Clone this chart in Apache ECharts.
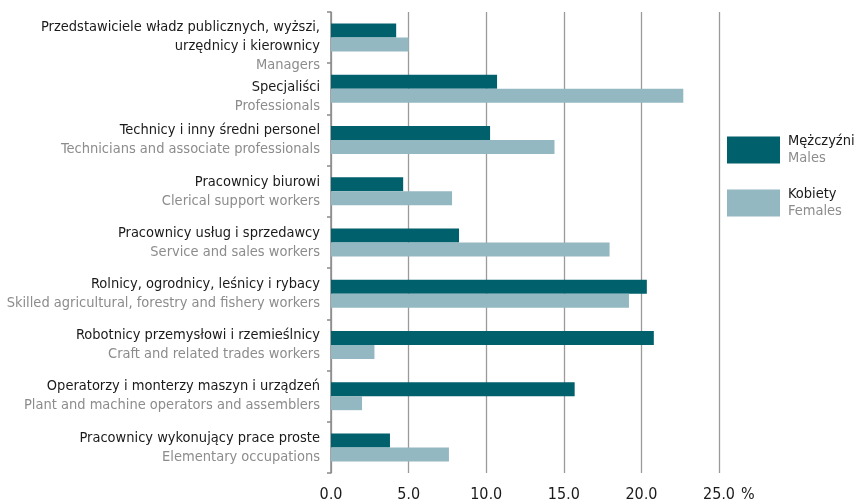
<!DOCTYPE html>
<html>
<head>
<meta charset="utf-8">
<script src="https://cdn.jsdelivr.net/npm/echarts@6/dist/echarts.min.js"></script>
<style>
  html, body { margin: 0; padding: 0; background: #fff; }
  #chart { width: 855px; height: 499px; }
</style>
</head>
<body>
<div id="chart"></div>
<script>
// categories, polish lines (may be split in two) and english line
const categoriesPl = [
  ['Przedstawiciele władz publicznych, wyższi,', 'urzędnicy i kierownicy'],
  ['Specjaliści'],
  ['Technicy i inny średni personel'],
  ['Pracownicy biurowi'],
  ['Pracownicy usług i sprzedawcy'],
  ['Rolnicy, ogrodnicy, leśnicy i rybacy'],
  ['Robotnicy przemysłowi i rzemieślnicy'],
  ['Operatorzy i monterzy maszyn i urządzeń'],
  ['Pracownicy wykonujący prace proste']
];
const categoriesEn = [
  'Managers',
  'Professionals',
  'Technicians and associate professionals',
  'Clerical support workers',
  'Service and sales workers',
  'Skilled agricultural, forestry and fishery workers',
  'Craft and related trades workers',
  'Plant and machine operators and assemblers',
  'Elementary occupations'
];
const males = [4.2, 10.7, 10.25, 4.65, 8.25, 20.35, 20.8, 15.7, 3.8];
const females = [5.0, 22.7, 14.4, 7.8, 17.95, 19.2, 2.8, 2.0, 7.6];
const seriesNames = ['Mężczyźni', 'Kobiety'];
const seriesNamesEn = ['Males', 'Females'];

// the first two label blocks sit lower in the original: an invisible spacer line pushes them down
const labelSpacer = [18, 16, 0, 0, 0, 0, 0, 0, 0];

const FONT = "'DejaVu Sans Condensed', 'DejaVu Sans', sans-serif";
const labels = categoriesPl.map((pl, i) => String(i));

const rich = {
  pl: { fontSize: 14.5, color: '#1a1a1a', lineHeight: 19, fontFamily: FONT, align: 'right' },
  en: { fontSize: 14.5, color: '#8c8c8c', lineHeight: 19, fontFamily: FONT, align: 'right' }
};
labelSpacer.forEach((h, i) => {
  if (h) rich['sp' + i] = { fontSize: 4, lineHeight: h, color: 'rgba(0,0,0,0)' };
});

const chart = echarts.init(document.getElementById('chart'));
chart.setOption({
  animation: false,
  textStyle: { fontFamily: FONT },
  grid: { left: 331, right: 136, top: 12, bottom: 26, containLabel: false, outerBoundsMode: 'none' },
  legend: {
    orient: 'vertical',
    left: 727,
    top: 134,
    padding: 0,
    itemWidth: 53,
    itemHeight: 27,
    itemGap: 21,
    icon: 'rect',
    data: seriesNames,
    formatter: name => {
      const i = seriesNames.indexOf(name);
      return '{pl|' + name + '}\n{en|' + seriesNamesEn[i] + '}';
    },
    textStyle: {
      fontFamily: FONT,
      padding: [0, 0, 0, 3],
      rich: {
        pl: { fontSize: 14.5, color: '#1a1a1a', lineHeight: 17, fontFamily: FONT },
        en: { fontSize: 14.5, color: '#8c8c8c', lineHeight: 17, fontFamily: FONT }
      }
    }
  },
  xAxis: {
    type: 'value',
    min: 0,
    max: 25,
    interval: 5,
    name: '%',
    nameLocation: 'end',
    nameGap: 20,
    nameTextStyle: {
      fontSize: 16, color: '#1a1a1a', fontFamily: FONT,
      verticalAlign: 'top', padding: [14, 0, 0, 0]
    },
    axisLine: { show: false },
    axisTick: { show: false },
    axisLabel: {
      fontSize: 16,
      color: '#1a1a1a',
      margin: 14,
      fontFamily: FONT,
      formatter: v => v.toFixed(1).replace('.', ',')
    },
    splitLine: { show: true, lineStyle: { color: '#9a9a9a', width: 1.3 } }
  },
  yAxis: {
    type: 'category',
    inverse: true,
    data: labels,
    axisLine: { show: true, lineStyle: { color: '#8a8a8a', width: 1.5 } },
    axisTick: { show: true, length: 4, lineStyle: { color: '#8a8a8a', width: 1.5 } },
    axisLabel: {
      interval: 0,
      hideOverlap: false,
      margin: 11,
      fontFamily: FONT,
      formatter: v => {
        const i = Number(v);
        const head = labelSpacer[i] ? '{sp' + i + '|\u00a0}\n' : '';
        return head + categoriesPl[i].map(s => '{pl|' + s + '}').join('\n') +
          '\n{en|' + categoriesEn[i] + '}';
      },
      rich: rich
    }
  },
  series: [
    {
      name: seriesNames[0],
      type: 'bar',
      data: males,
      barWidth: 14,
      barGap: '0%',
      itemStyle: { color: '#00616c' }
    },
    {
      name: seriesNames[1],
      type: 'bar',
      data: females,
      barWidth: 14,
      itemStyle: { color: '#93b8c1' }
    }
  ]
});
</script>
</body>
</html>
